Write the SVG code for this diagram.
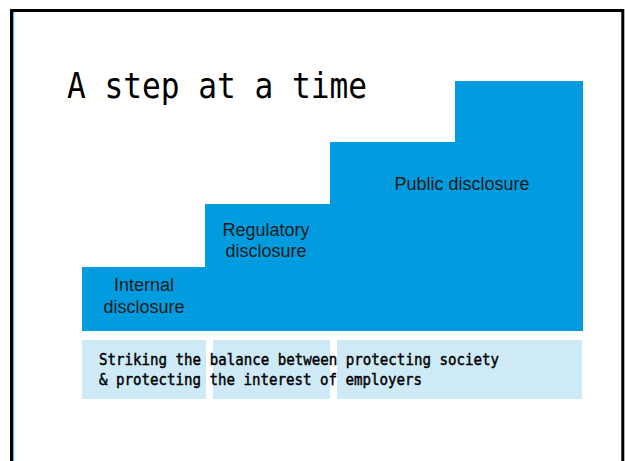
<svg xmlns="http://www.w3.org/2000/svg" width="625" height="461" viewBox="0 0 625 461">
<style>
.step{fill:#009CDF}
.band{fill:#CFEAF7}
.lbl{font-family:"Liberation Sans",Arial,sans-serif;font-size:18px;fill:#1a1a1a;text-anchor:middle}
.mono{font-family:"DejaVu Sans Mono","Liberation Mono",monospace;fill:#000}
.body{stroke:#000;stroke-width:0.45}
</style>
<rect x="0" y="0" width="625" height="461" fill="#fff"/>
<g id="frame">
<path d="M11.5,461 V10.5 H622.8 V461" fill="none" stroke="#000" stroke-width="3"/>
<line x1="13.6" y1="12" x2="13.6" y2="461" stroke="#4FC3F0" stroke-width="1.2"/>
</g>
<g id="title">
<text class="mono" x="67" y="98" font-size="36" textLength="300" lengthAdjust="spacingAndGlyphs">A step at a time</text>
</g>
<g id="step-top">
<rect class="step" x="455" y="81" width="128" height="250"/>
</g>
<g id="step-public">
<rect class="step" x="330" y="142" width="127" height="189"/>
<text class="lbl" x="462" y="190">Public disclosure</text>
</g>
<g id="step-regulatory">
<rect class="step" x="205" y="204" width="126" height="127"/>
<text class="lbl" x="266" y="236">Regulatory</text>
<text class="lbl" x="266" y="257">disclosure</text>
</g>
<g id="step-internal">
<rect class="step" x="82" y="267" width="124" height="64"/>
<text class="lbl" x="144" y="291">Internal</text>
<text class="lbl" x="144" y="313">disclosure</text>
</g>
<g id="band">
<rect class="band" x="82" y="340" width="124" height="59"/>
<rect class="band" x="213" y="340" width="117" height="59"/>
<rect class="band" x="337" y="340" width="245" height="59"/>
<text class="mono body" x="99" y="365" font-size="16" textLength="400" lengthAdjust="spacingAndGlyphs">Striking the balance between protecting society</text>
<text class="mono body" x="99" y="385" font-size="16" textLength="323" lengthAdjust="spacingAndGlyphs">&amp; protecting the interest of employers</text>
</g>
</svg>
